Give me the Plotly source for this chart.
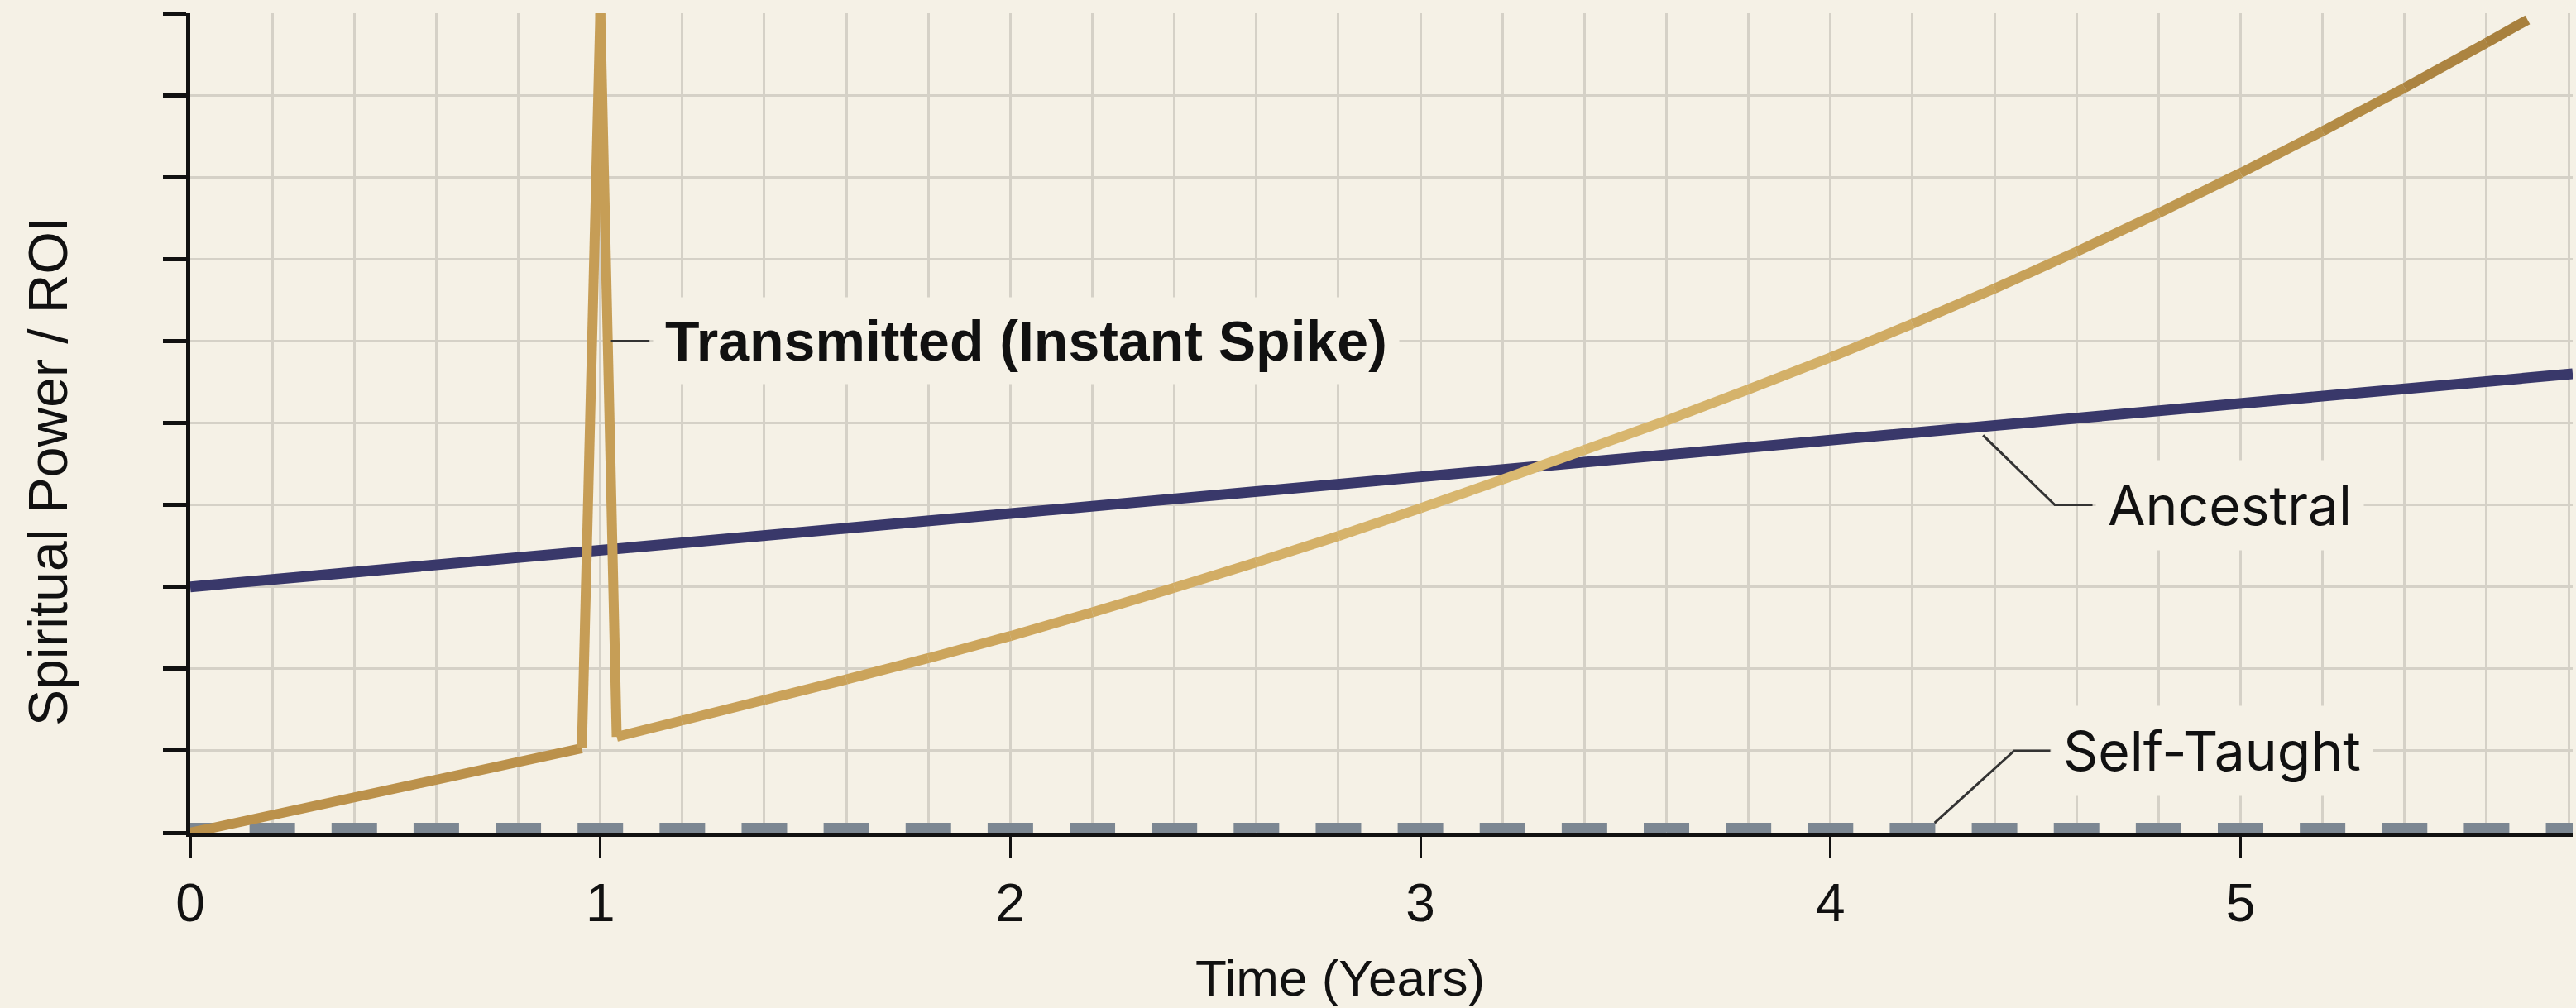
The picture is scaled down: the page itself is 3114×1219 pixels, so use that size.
import plotly.graph_objects as go

# ---------------- data ----------------
x_ticks = [0, 1, 2, 3, 4, 5]
x_tick_labels = ["0", "1", "2", "3", "4", "5"]
y_ticks = [0, 1, 2, 3, 4, 5, 6, 7, 8, 9, 10]

transmitted_x = [0.0, 0.955, 1.0, 1.04, 1.2, 1.4, 1.6, 1.8, 2.0, 2.2, 2.4, 2.6, 2.8, 3.0,
                 3.2, 3.4, 3.6, 3.8, 4.0, 4.2, 4.4, 4.6, 4.8, 5.0, 5.2, 5.4, 5.6, 5.7]
transmitted_y = [0.0, 1.03, 10.0, 1.17, 1.37, 1.62, 1.87, 2.13, 2.40, 2.69, 2.99, 3.30, 3.62, 3.96,
                 4.31, 4.67, 5.03, 5.41, 5.80, 6.21, 6.64, 7.09, 7.56, 8.05, 8.56, 9.09, 9.64, 9.92]

ancestral_x = [0.0, 5.81]
ancestral_y = [3.0, 5.6]

self_taught_x = [0.0, 5.81]
self_taught_y = [0.04, 0.04]

# ---------------- style ----------------
W, H = 3114, 1219
ML, MR, MT, MB = 230, 4, 16, 212
X_RANGE = [0, 5.81]
Y_RANGE = [0, 10]
BG = "#f5f1e6"
GRID = "#d5d1c7"
INK = "#111111"
NAVY = "#39386a"
GREY = "#7c8792"

gold_stops = [(0.0, (176, 134, 64)), (1.0, (198, 158, 86)), (2.0, (205, 166, 93)),
              (3.3, (218, 185, 113)), (4.0, (210, 174, 102)), (5.0, (188, 148, 76)),
              (5.7, (166, 126, 60))]


def gold_at(xv):
    for (x0, c0), (x1, c1) in zip(gold_stops[:-1], gold_stops[1:]):
        if x0 <= xv <= x1:
            t = (xv - x0) / (x1 - x0)
            r, g, b = (round(a + (b_ - a) * t) for a, b_ in zip(c0, c1))
            return f"rgb({r},{g},{b})"
    r, g, b = gold_stops[-1][1] if xv > gold_stops[-1][0] else gold_stops[0][1]
    return f"rgb({r},{g},{b})"


plot_w = W - ML - MR
plot_h = H - MT - MB
px_per_step = plot_w / (X_RANGE[1] - X_RANGE[0]) * 0.2
dash_len = 55.0
gap_len = px_per_step - dash_len
dash_pattern = f"{dash_len/2:.2f}px,{gap_len:.2f}px,{dash_len/2:.2f}px,0px"

fig = go.Figure()

# Self-taught (dashed, flat)
fig.add_trace(go.Scatter(x=self_taught_x, y=self_taught_y, mode="lines",
                         line=dict(color=GREY, width=16, dash=dash_pattern),
                         hoverinfo="skip", showlegend=False))

# Ancestral (steady linear)
fig.add_trace(go.Scatter(x=ancestral_x, y=ancestral_y, mode="lines",
                         line=dict(color=NAVY, width=13),
                         hoverinfo="skip", showlegend=False))

# Transmitted (gradient gold, drawn segment by segment)
for i in range(len(transmitted_x) - 1):
    xm = (transmitted_x[i] + transmitted_x[i + 1]) / 2
    fig.add_trace(go.Scatter(x=transmitted_x[i:i + 2], y=transmitted_y[i:i + 2], mode="lines",
                             line=dict(color=gold_at(xm), width=12),
                             hoverinfo="skip", showlegend=False))

# leader lines
leader = dict(color="#333333", width=3)
fig.add_shape(type="line", x0=1.026, y0=6.0, x1=1.12, y1=6.0, line=leader)
fig.add_shape(type="path", path="M 4.372 4.85 L 4.547 4.0 L 4.639 4.0", line=leader)
fig.add_shape(type="path", path="M 4.254 0.12 L 4.448 1.0 L 4.536 1.0", line=leader)

lab_font = dict(family="Inter, Noto Sans, sans-serif", size=66, color=INK)
fig.add_annotation(x=1.155, y=6.0, xref="x", yref="y", text="Transmitted (Instant Spike)",
                   showarrow=False, xanchor="left", yanchor="middle", xshift=-14,
                   bgcolor=BG, borderpad=14,
                   font=dict(family="Liberation Sans, Arial, sans-serif", size=68, color=INK,
                             weight="bold"))
fig.add_annotation(x=4.675, y=4.0, xref="x", yref="y", text="Ancestral",
                   showarrow=False, xanchor="left", yanchor="middle", xshift=-14,
                   bgcolor=BG, borderpad=14, font=lab_font)
fig.add_annotation(x=4.565, y=1.0, xref="x", yref="y", text="Self-Taught",
                   showarrow=False, xanchor="left", yanchor="middle", xshift=-14,
                   bgcolor=BG, borderpad=14, font=lab_font)

# axis titles
fig.add_annotation(x=0.4826, y=-(1182 - (H - MB)) / plot_h,
                   xref="paper", yref="paper", text="Time (Years)", showarrow=False,
                   xanchor="center", yanchor="middle",
                   font=dict(family="Liberation Sans, Arial, sans-serif", size=62, color=INK))
fig.add_annotation(x=-(ML - 58) / plot_w, y=(H - MB - 570) / plot_h,
                   xref="paper", yref="paper", text="Spiritual Power / ROI", showarrow=False,
                   textangle=-90, xanchor="center", yanchor="middle",
                   font=dict(family="Liberation Sans, Arial, sans-serif", size=66, color=INK))

fig.update_layout(
    width=W, height=H,
    margin=dict(l=ML, r=MR, t=MT, b=MB, pad=0),
    paper_bgcolor=BG, plot_bgcolor=BG,
    showlegend=False,
    template="none",
)
fig.update_xaxes(range=X_RANGE, tickmode="array", tickvals=x_ticks, ticktext=x_tick_labels,
                 ticks="outside", ticklen=25, tickwidth=3, tickcolor=INK,
                 tickfont=dict(family="Liberation Sans, Arial, sans-serif", size=64, color=INK),
                 showline=True, linecolor=INK, linewidth=5,
                 showgrid=True, gridcolor=GRID, gridwidth=3,
                 minor=dict(dtick=0.2, tick0=0, showgrid=True, gridcolor=GRID, gridwidth=3, ticks=""),
                 zeroline=False, layer="below traces", automargin=False, fixedrange=True)
fig.update_yaxes(range=Y_RANGE, tickmode="array", tickvals=y_ticks, showticklabels=False,
                 ticks="outside", ticklen=28, tickwidth=5, tickcolor=INK,
                 showline=True, linecolor=INK, linewidth=5,
                 showgrid=True, gridcolor=GRID, gridwidth=3,
                 zeroline=False, layer="below traces", automargin=False, fixedrange=True)

fig.write_html("out.html",
               config={"displayModeBar": False},
               post_script="document.body.style.margin='0';document.body.style.overflow='hidden';")
